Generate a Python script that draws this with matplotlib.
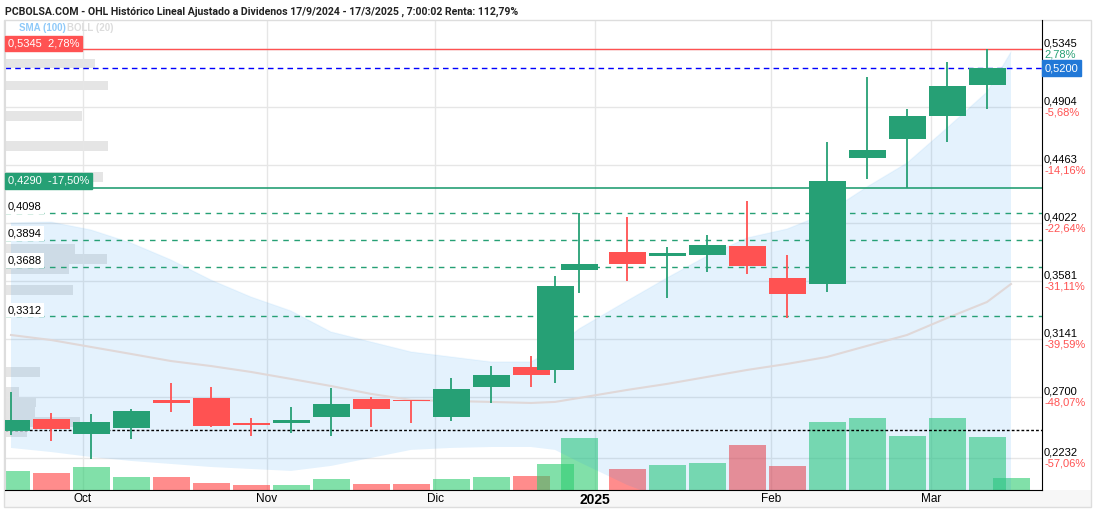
import matplotlib.pyplot as plt
import numpy as np
from matplotlib.transforms import blended_transform_factory
from matplotlib.patches import Rectangle

plt.rcParams['font.family'] = ['Liberation Sans', 'DejaVu Sans']

# calendario de sesiones (posicion x = numero de sesion)
start_day = '2024-09-16'
holidays = ['2024-12-25', '2024-12-26', '2025-01-01']

# velas semanales
bar_dates = ['2024-09-18', '2024-09-25', '2024-10-02', '2024-10-09', '2024-10-16',
             '2024-10-23', '2024-10-30', '2024-11-06', '2024-11-13', '2024-11-20',
             '2024-11-27', '2024-12-04', '2024-12-11', '2024-12-18', '2024-12-23',
             '2024-12-30', '2025-01-08', '2025-01-15', '2025-01-22', '2025-01-29',
             '2025-02-05', '2025-02-12', '2025-02-19', '2025-02-26', '2025-03-05',
             '2025-03-12', '2025-03-17']
opens = [0.2440, 0.2531, 0.2417, 0.2463, 0.2676, 0.2691, 0.2501, 0.2501, 0.2547, 0.2684,
         0.2672, 0.2547, 0.2775, 0.2927, 0.2904, 0.3664, 0.3801, 0.3771, 0.3779, 0.3847,
         0.3604, 0.3558, 0.4516, 0.4661, 0.4836, 0.5071, np.nan]
highs = [0.2737, 0.2577, 0.2569, 0.2607, 0.2805, 0.2775, 0.2539, 0.2623, 0.2767, 0.2699,
         0.2676, 0.2843, 0.2934, 0.3011, 0.3619, 0.4098, 0.4068, 0.3839, 0.3931, 0.4189,
         0.3779, 0.4638, 0.5132, 0.4889, 0.5246, 0.5345, np.nan]
lows = [0.2410, 0.2364, 0.2227, 0.2379, 0.2585, 0.2470, 0.2402, 0.2425, 0.2402, 0.2470,
        0.2501, 0.2516, 0.2653, 0.2775, 0.2805, 0.3490, 0.3581, 0.3452, 0.3649, 0.3634,
        0.3300, 0.3497, 0.4356, 0.4288, 0.4638, 0.4889, np.nan]
closes = [0.2524, 0.2455, 0.2509, 0.2592, 0.2653, 0.2478, 0.2486, 0.2524, 0.2646, 0.2608,
          0.2668, 0.2760, 0.2866, 0.2866, 0.3543, 0.3710, 0.3710, 0.3794, 0.3855, 0.3695,
          0.3482, 0.4341, 0.4577, 0.4836, 0.5064, 0.5200, np.nan]
volumes = [1.9, 1.7, 2.3, 1.3, 1.3, 0.7, 0.5, 0.5, 1.1, 0.6, 0.6, 1.1, 1.3, 1.4, 2.6,
           5.2, 2.1, 2.5, 2.7, 4.5, 2.4, 6.8, 7.2, 5.4, 7.2, 5.3, 1.2]

# bandas y media
band_upper = [0.4022, 0.4029, 0.3969, 0.3870, 0.3741, 0.3588, 0.3459, 0.3353, 0.3193, 0.3117,
              0.3041, 0.3003, 0.2965, 0.2965, 0.3071, 0.3216, 0.3429, 0.3604, 0.3771, 0.3908,
              0.3976, 0.4098, 0.4296, 0.4478, 0.4744, 0.5018, 0.5322]
band_lower = [0.2311, 0.2280, 0.2242, 0.2212, 0.2189, 0.2166, 0.2151, 0.2136, 0.2174, 0.2235,
              0.2296, 0.2311, 0.2318, 0.2318, 0.2296, 0.2204, 0.2030, 0.1915, 0.1801, 0.1687,
              0.1611, 0.1459, 0.1307, 0.1155, 0.1003, 0.0851, 0.0775]
mid_line = [0.3170, 0.3132, 0.3079, 0.3026, 0.2972, 0.2934, 0.2889, 0.2836, 0.2782, 0.2722,
            0.2676, 0.2668, 0.2661, 0.2653, 0.2661, 0.2691, 0.2752, 0.2798, 0.2851, 0.2904,
            0.2950, 0.3003, 0.3087, 0.3170, 0.3299, 0.3421, 0.3558]

# volumen por precio (izquierda)
profile_prices = [0.5235, 0.5068, 0.4836, 0.4607, 0.4372, 0.3824, 0.3748, 0.3672, 0.3512,
                  0.2889, 0.2737, 0.2661, 0.2585, 0.2509, 0.2429]
profile_vols = [9.0, 10.3, 7.7, 10.3, 9.8, 7.0, 10.2, 6.4, 6.8, 3.5, 1.4, 3.1, 3.0, 7.5, 2.2]

# niveles
last_price = 0.5200
max_price = 0.5345
start_price = 0.2444
support_green = 0.4290
dashed_levels = [0.4098, 0.3894, 0.3688, 0.3312]
right_vals = [0.5345, 0.4904, 0.4463, 0.4022, 0.3581, 0.3141, 0.2700, 0.2232]
right_pcts = ['2,78%', '-5,68%', '-14,16%', '-22,64%', '-31,11%', '-39,59%', '-48,07%', '-57,06%']

month_dates = ['2024-10-01', '2024-11-01', '2024-12-02', '2025-01-02', '2025-02-03', '2025-03-03']
month_labels = ['Oct', 'Nov', 'Dic', '2025', 'Feb', 'Mar']

title = ('PCBOLSA.COM - OHL Histórico Lineal Ajustado a Dividenos 17/9/2024 - 17/3/2025 , '
         '7:00:02 Renta: 112,79%')

GREEN = '#26a075'
RED = '#ff5252'

x = np.busday_count(start_day, bar_dates, holidays=holidays)
xm = np.busday_count(start_day, month_dates, holidays=holidays)
o = np.array(opens); h = np.array(highs); l = np.array(lows); c = np.array(closes)
up = ~(c < o)
cols = np.where(up, GREEN, RED)

W, H = 1096, 512
fig = plt.figure(figsize=(W / 100, H / 100), dpi=100)
rect = [5 / W, 22 / H, 1037 / W, 470 / H]

# fondo: rejilla y perfil de volumen
ax_p = fig.add_axes(rect, zorder=0)
ax = fig.add_axes(rect, zorder=2, sharex=ax_p, sharey=ax_p)
ax_v = fig.add_axes(rect, zorder=1, sharex=ax_p)
ax.patch.set_visible(False)
ax_v.patch.set_visible(False)

ax_p.set_xlim(1.25, 130.875)
ax_p.set_ylim(0.1991, 0.5566)
for v in right_vals:
    ax_p.axhline(v, color='#e6e6e6', lw=1)
for xv in xm:
    ax_p.axvline(xv, color='#e6e6e6', lw=1)
tr_p = blended_transform_factory(ax_p.transAxes, ax_p.transData)
ax_p.barh(profile_prices, np.array(profile_vols) / 103.7, height=0.0073, left=0,
          color='#999999', alpha=0.25, transform=tr_p)
for s in ax_p.spines.values():
    s.set_visible(False)
ax_p.tick_params(left=False, labelleft=False, bottom=False, labelbottom=False)

# volumen
ax_v.bar(x, volumes, width=4.625, color=np.where(up, '#2ecc71', '#ff4040'),
         alpha=0.6, lw=0)
ax_v.set_ylim(0, 47)
ax_v.set_xlim(1.25, 130.875)
for s in ax_v.spines.values():
    s.set_visible(False)
ax_v.tick_params(left=False, labelleft=False, bottom=False, labelbottom=False)

# banda y media
ax.fill_between(x, band_lower, band_upper, color='#2196f3', alpha=0.12, lw=0)
ax.plot(x, band_upper, color='#2196f3', alpha=0.06, lw=1)
ax.plot(x, mid_line, color='#e0d8d8', lw=1.5)

# lineas de nivel
ax.axhline(max_price, color=RED, lw=1)
ax.axhline(last_price, color='#0000ff', lw=1, dashes=(4, 3))
ax.axhline(support_green, color=GREEN, lw=1.2)
for v in dashed_levels:
    ax.axhline(v, color=GREEN, lw=1, dashes=(4, 4))
ax.axhline(start_price, color='black', lw=1, dashes=(2, 1.5))

# velas
ok = ~np.isnan(o)
ax.vlines(x[ok], l[ok], h[ok], colors=cols[ok], lw=1.3, zorder=3)
ax.bar(x[ok], np.abs(c - o)[ok], bottom=np.minimum(o, c)[ok], width=4.625,
       color=cols[ok], lw=0, zorder=4)

ax.set_xticks(xm)
ax.set_xticklabels(month_labels, fontsize=8.5)
ax.get_xticklabels()[3].set_fontweight('bold')
ax.get_xticklabels()[3].set_fontsize(10)
ax.tick_params(axis='x', length=0, pad=2.5)
ax.tick_params(left=False, labelleft=False)
ax.spines['top'].set_visible(False)
ax.spines['left'].set_color('#dddddd')
ax.spines['right'].set_color('black')
ax.spines['bottom'].set_color('black')

# etiquetas de la derecha
tr = blended_transform_factory(ax.transAxes, ax.transData)
for v, p in zip(right_vals, right_pcts):
    ax.annotate(f'{v:.4f}'.replace('.', ','), xy=(1, v), xycoords=tr, xytext=(1.5, 4),
                textcoords='offset points', va='center', ha='left', fontsize=8, color='black',
                annotation_clip=False)
    ax.annotate(p, xy=(1, v), xycoords=tr, xytext=(1.5, -4), textcoords='offset points',
                va='center', ha='left', fontsize=8,
                color=GREEN if not p.startswith('-') else RED, annotation_clip=False)
ax.annotate(f'{last_price:.4f}'.replace('.', ','), xy=(1, last_price), xycoords=tr,
            xytext=(2, 0), textcoords='offset points', va='center', ha='left', fontsize=8,
            color='white', annotation_clip=False,
            bbox=dict(boxstyle='square,pad=0.25', fc='#2178d7', ec='#2178d7'))

# etiquetas de la izquierda
ax.annotate('0,5345  2,78%', xy=(0, max_price), xycoords=tr, xytext=(2, 4),
            textcoords='offset points', va='center', ha='left', fontsize=8, color='white',
            bbox=dict(boxstyle='square,pad=0.25', fc=RED, ec=RED))
ax.annotate('0,4290  -17,50%', xy=(0, support_green), xycoords=tr, xytext=(2, 5),
            textcoords='offset points', va='center', ha='left', fontsize=8, color='white',
            bbox=dict(boxstyle='square,pad=0.25', fc=GREEN, ec=GREEN))
for v in dashed_levels:
    ax.annotate(f'{v:.4f}'.replace('.', ','), xy=(0, v), xycoords=tr, xytext=(2, 4.5),
                textcoords='offset points', va='center', ha='left', fontsize=8, color='black',
                bbox=dict(boxstyle='square,pad=0.2', fc='white', ec='none'))

# marco, franja del eje x, titulo y leyenda
fig.patches.append(Rectangle((4 / W, 5 / H), 1087 / W, 17 / H, transform=fig.transFigure,
                             fc='#f7f7f7', ec='none', zorder=-1))
fig.patches.append(Rectangle((4 / W, 5 / H), 1087 / W, 487 / H, transform=fig.transFigure,
                             fc='none', ec='#dddddd', lw=1))
fig.text(5 / W, 1 - 12 / H, title, fontsize=7.6, fontweight='bold', color='#222222',
         va='center', family=['Roboto', 'Liberation Sans'])
fig.text(19 / W, 1 - 28 / H, 'SMA (100)', fontsize=7.0, fontweight='bold', color='#90caf9',
         va='center')
fig.text(67 / W, 1 - 28 / H, 'BOLL (20)', fontsize=7.0, fontweight='bold', color='#dcdcdc',
         va='center')

fig.savefig('out.png', dpi=100)
